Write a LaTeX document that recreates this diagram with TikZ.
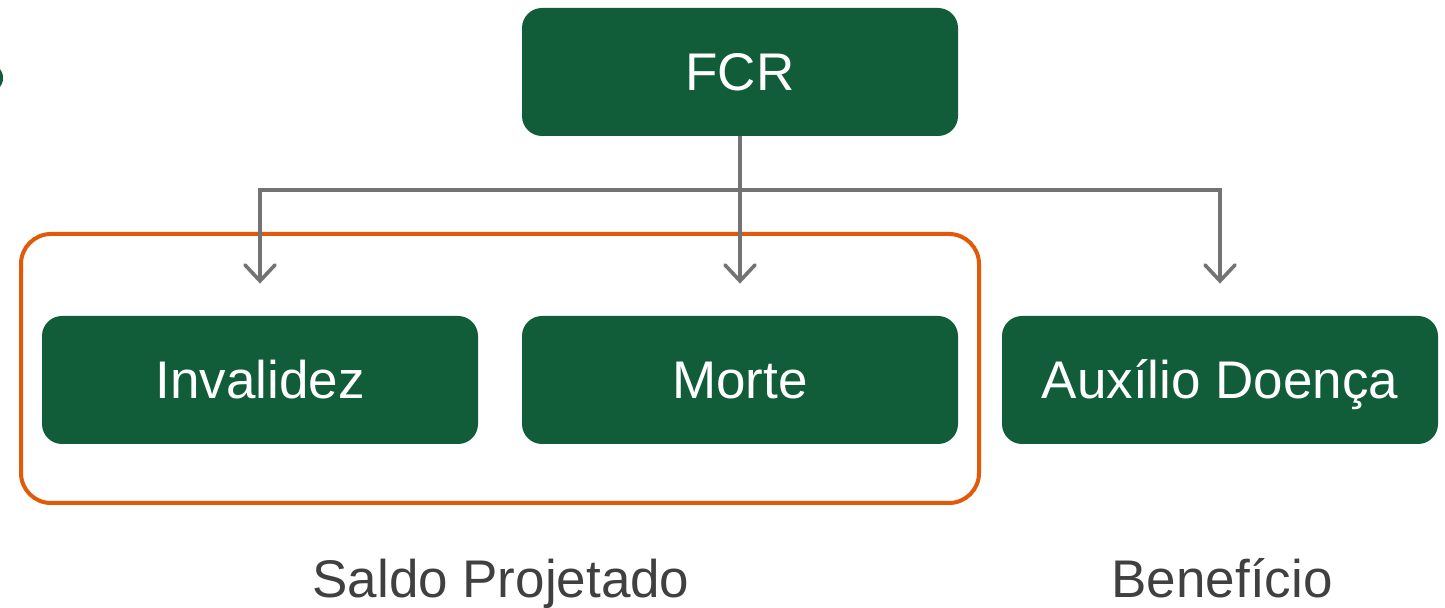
\documentclass[tikz,border=0pt]{standalone}
\usepackage{fontspec}
\setmainfont{Liberation Sans}
\usepackage{xcolor}
\usetikzlibrary{arrows.meta}

\definecolor{verde}{RGB}{18,93,57}
\definecolor{laranja}{RGB}{224,90,10}
\definecolor{cinza}{RGB}{115,115,115}
\definecolor{texto}{RGB}{64,64,64}

\tikzset{
  caixa/.style={fill=verde, text=white, rounded corners=10pt, minimum width=218pt, minimum height=64pt, text height=19pt, text depth=0pt, font=\fontsize{26.5}{30}\selectfont},
  seta/.style={draw=cinza, line width=1.8pt, shorten >=16pt, -{Straight Barb[length=8pt,width=15pt,line cap=round]}},
  rotulo/.style={text=texto, anchor=base, font=\fontsize{26.5}{30}\selectfont}
}

\begin{document}
\begin{tikzpicture}[x=0.5pt,y=0.5pt,yscale=-1,xscale=1]
\useasboundingbox[fill=white] (0,0) rectangle (1445,608);
\fill[verde] (-9,78) ellipse (12 and 14);
%Boxes
\node[caixa] (fcr) at (740,72) {FCR};
\node[caixa] (inval) at (260,380) {Invalidez};
\node[caixa] (morte) at (740,380) {Morte};
\node[caixa] (aux) at (1220,380) {Auxílio Doença};
\draw[laranja, line width=2pt, rounded corners=15pt] (21,234) rectangle (979,503);
%Arrows
\coordinate (barra) at (740,190);
\draw[seta] (fcr.south) -- (morte.north);
\draw[seta] (barra) -| (inval.north);
\draw[seta] (barra) -| (aux.north);
%Text
\node[rotulo] (saldo) at (501,597) {Saldo Projetado};
\node[rotulo] (benef) at (1222,597) {Benefício};
\end{tikzpicture}
\end{document}
